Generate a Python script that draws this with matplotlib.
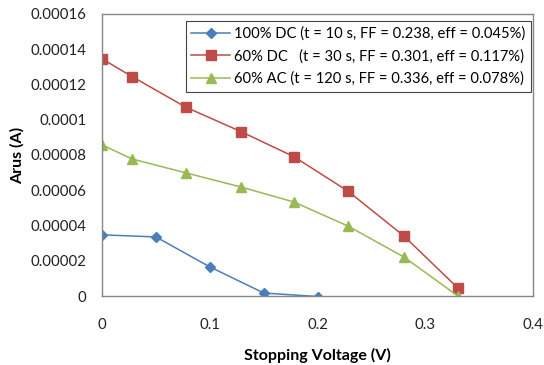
import numpy as np
from matplotlib import pyplot as plt

plt.rcParams['font.family'] = ['Lato', 'DejaVu Sans']

# data
v_dc100 = [0, 0.05, 0.1, 0.15, 0.2]
i_dc100 = [0.0000347, 0.0000335, 0.0000165, 0.0000017, -0.0000003]

v_60 = [0, 0.028, 0.078, 0.129, 0.178, 0.228, 0.28, 0.33]
i_dc60 = [0.0001345, 0.0001244, 0.000107, 0.0000932, 0.000079, 0.0000595, 0.000034, 0.0000045]
i_ac60 = [0.0000857, 0.0000777, 0.0000698, 0.0000618, 0.0000533, 0.0000397, 0.0000221, 0.0]

labels = ['100% DC (t = 10 s, FF = 0.238, eff = 0.045%)',
          '60% DC   (t = 30 s, FF = 0.301, eff = 0.117%)',
          '60% AC (t = 120 s, FF = 0.336, eff = 0.078%)']

yticks = [0, 0.00002, 0.00004, 0.00006, 0.00008, 0.0001, 0.00012, 0.00014, 0.00016]
ytick_labels = ['0', '0.00002', '0.00004', '0.00006', '0.00008', '0.0001', '0.00012', '0.00014', '0.00016']
xticks = [0, 0.1, 0.2, 0.3, 0.4]
xtick_labels = ['0', '0.1', '0.2', '0.3', '0.4']

fig = plt.figure(figsize=(5.44, 3.65), dpi=100)
ax = fig.add_axes([0.1875, 0.189, 0.793, 0.773])

ax.plot(v_dc100, i_dc100, color='#4a7ebb', marker='D', markersize=5, lw=1.1, label=labels[0])
ax.plot(v_60, i_dc60, color='#be4b48', marker='s', markersize=7, lw=1.1, label=labels[1])
ax.plot(v_60, i_ac60, color='#98b954', marker='^', markersize=7.5, lw=1.1, label=labels[2])

ax.set_xlim(0, 0.4)
ax.set_ylim(0, 0.00016)
ax.set_yticks(yticks)
ax.set_yticklabels(ytick_labels)
ax.set_xticks(xticks)
ax.set_xticklabels(xtick_labels)
ax.tick_params(axis='both', length=0, labelsize=10.8, colors='#222222')
ax.tick_params(axis='x', pad=16)
ax.tick_params(axis='y', pad=11)
for s in ax.spines.values():
    s.set_color('#868686')
    s.set_linewidth(1)

ax.set_xlabel('Stopping Voltage (V)', fontsize=11.5, fontweight='bold', labelpad=11)
ax.set_ylabel('Arus (A)', fontsize=11.5, fontweight='bold', labelpad=4)

leg = ax.legend(loc='upper right', bbox_to_anchor=(0.995, 0.975), borderaxespad=0,
                fontsize=10.6, fancybox=False, edgecolor='#444444', framealpha=1,
                handlelength=2.6, borderpad=0.4, labelspacing=0.55, handletextpad=0.3)
leg.get_frame().set_linewidth(0.8)

fig.savefig('out.png', dpi=100)
